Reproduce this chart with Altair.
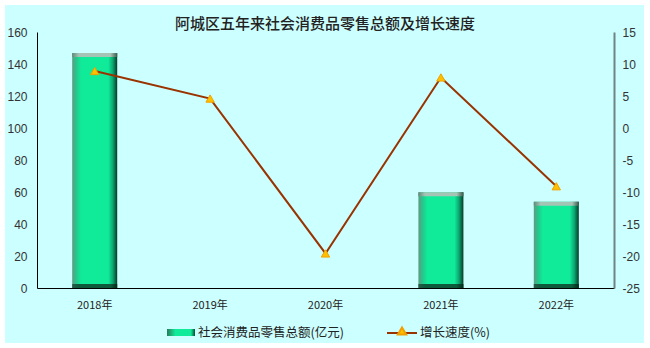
import altair as alt
import pandas as pd

years = ["2018年", "2019年", "2020年", "2021年", "2022年"]
sales = [146.8, None, None, 59.8, 53.9]
growth = [8.9, 4.6, -19.6, 7.9, -9.1]
left_ticks = [0, 20, 40, 60, 80, 100, 120, 140, 160]
right_ticks = [-25, -20, -15, -10, -5, 0, 5, 10, 15]
title_text = "阿城区五年来社会消费品零售总额及增长速度"
legend_bar = "社会消费品零售总额(亿元)"
legend_line = "增长速度(%)"

df = pd.DataFrame({"year": years, "sales": sales, "growth": growth})
one = alt.Data(values=[{}])

W, H = 577, 256

xenc = alt.X(
    "year:N", sort=years,
    scale=alt.Scale(paddingInner=0.61, paddingOuter=0.305),
    axis=alt.Axis(title=None, labelAngle=0, ticks=False, domainColor="#000000",
                  domainWidth=1, labelFont="Noto Sans CJK SC", labelFontSize=11,
                  labelColor="#222222", labelPadding=11, zindex=1),
)

def grad(stops):
    return alt.Gradient(gradient="linear", x1=0, x2=1, y1=0, y2=0,
                        stops=[alt.GradientStop(color=c, offset=o) for o, c in stops])

bar_grad = grad([(0, "#5f9a82"), (0.1, "#22c98c"), (0.2, "#10eb9a"), (0.8, "#10eb9a"),
                 (0.9, "#0aa872"), (1, "#053a26")])
cap_grad = grad([(0, "#5f8a7a"), (0.15, "#a6c4b6"), (0.85, "#a6c4b6"), (1, "#3a5a4c")])
base_grad = grad([(0, "#2a5a48"), (0.15, "#0d5a3c"), (0.85, "#0d5a3c"), (1, "#042a1a")])

left_scale = alt.Scale(domain=[0, 160])
left_axis = alt.Axis(title=None, values=left_ticks, ticks=False, grid=False,
                     labelOverlap=False,
                     domainColor="#000000", labelFont="Liberation Sans",
                     labelFontSize=12, labelColor="#333333", labelPadding=10,
                     zindex=1)
yleft = alt.Y("sales:Q", scale=left_scale, axis=left_axis)

base = alt.Chart(df).transform_filter("datum.sales != null")
bars = base.mark_bar(color=bar_grad).encode(x=xenc, y=yleft)
caps = base.mark_tick(color=cap_grad, size=45, thickness=4, yOffset=2, opacity=1).encode(
    x=xenc, y=yleft)
bottoms = base.mark_tick(color=base_grad, size=45, thickness=4, yOffset=-2, opacity=1).encode(
    x=xenc, y=alt.Y(datum=0, type="quantitative", scale=left_scale, axis=left_axis))
bar_layer = alt.layer(bars, caps, bottoms)

yright = alt.Y("growth:Q", scale=alt.Scale(domain=[-25, 15]),
               axis=alt.Axis(title=None, values=right_ticks, orient="right", ticks=False,
                             grid=False, labelOverlap=False,
                             labelExpr="toString(datum.value)",
                             domainColor="#6f8484", domainWidth=2,
                             labelFont="Liberation Sans", labelFontSize=12,
                             labelColor="#333333", labelPadding=8, zindex=1))
line = alt.Chart(df).mark_line(color="#993300", strokeWidth=2).encode(x=xenc, y=yright)
pts = alt.Chart(df).mark_point(shape="triangle-up", filled=True, fill="#ffc000",
                               stroke="#f0a000", strokeWidth=1, size=70, opacity=1).encode(
    x=xenc, y=yright)
line_layer = alt.layer(line, pts)

bg = alt.Chart(one).mark_rect(color="#ccffff").encode(
    x=alt.value(-32), x2=alt.value(607), y=alt.value(-27), y2=alt.value(311))

title = alt.Chart(one).mark_text(font="Noto Sans CJK SC", fontSize=15, color="#222222",
                                 fontWeight=500, baseline="middle", align="center").encode(
    x=alt.value(288), y=alt.value(-8), text=alt.value(title_text))

leg_sw = alt.Chart(one).mark_rect(color=grad([(0, "#2a7a5a"), (0.3, "#10eb9a"),
                                              (0.85, "#10eb9a"), (1, "#0a4a30")])).encode(
    x=alt.value(130), x2=alt.value(158), y=alt.value(297), y2=alt.value(304))
leg_t1 = alt.Chart(one).mark_text(font="Noto Sans CJK SC", fontSize=12.5, color="#222222",
                                  align="left", baseline="middle").encode(
    x=alt.value(161), y=alt.value(301), text=alt.value(legend_bar))
leg_ln = alt.Chart(one).mark_rule(color="#993300", strokeWidth=2).encode(
    x=alt.value(350), x2=alt.value(380), y=alt.value(301))
leg_pt = alt.Chart(one).mark_point(shape="triangle-up", filled=True, fill="#ffc000",
                                   stroke="#f0a000", size=70, opacity=1).encode(
    x=alt.value(365), y=alt.value(299))
leg_t2 = alt.Chart(one).mark_text(font="Noto Sans CJK SC", fontSize=12.5, color="#222222",
                                  align="left", baseline="middle").encode(
    x=alt.value(383), y=alt.value(301), text=alt.value(legend_line))

chart = alt.layer(
    bg, title, bar_layer, line_layer, leg_sw, leg_t1, leg_ln, leg_pt, leg_t2
).resolve_scale(y="independent").properties(
    width=W, height=H,
    autosize=alt.AutoSizeParams(type="none"),
    padding={"left": 37, "top": 32, "right": 36, "bottom": 60},
    background="#ffffff",
).configure_view(stroke=None)

chart.save("out.html", embed_options={"renderer": "svg", "actions": False})
